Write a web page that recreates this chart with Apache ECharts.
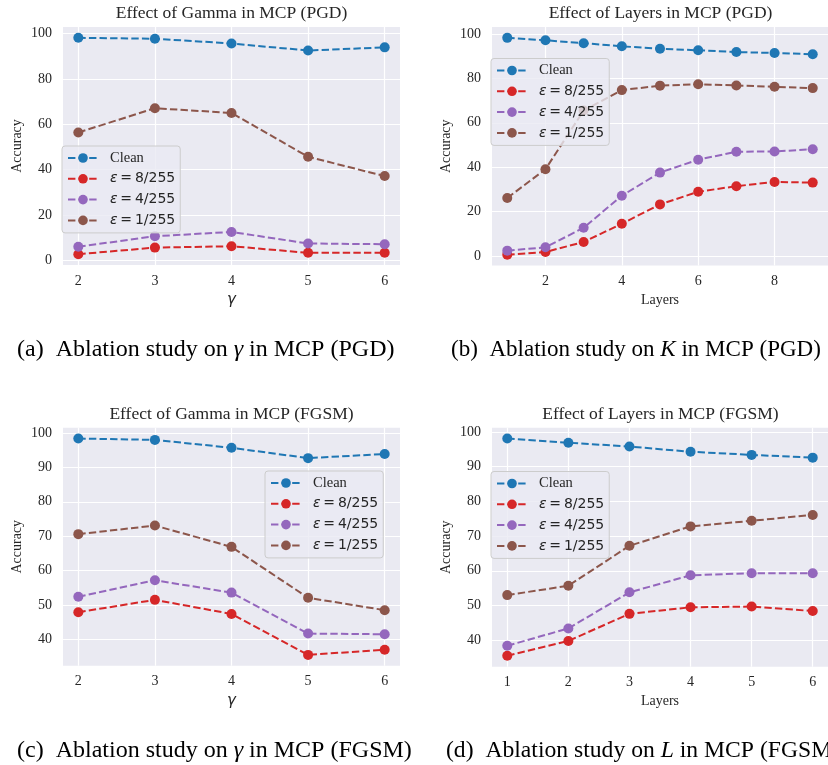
<!DOCTYPE html>
<html><head><meta charset="utf-8">
<script src="https://cdn.jsdelivr.net/npm/echarts@6/dist/echarts.min.js"></script>
<style>html,body{margin:0;padding:0;background:#fff}#c{width:828px;height:765px}</style>
</head><body><div id="c"></div>
<script>
// ---------- data ----------
const seriesNames = ['Clean', 'ε = 8/255', 'ε = 4/255', 'ε = 1/255'];
const gammaValues = [2, 3, 4, 5, 6];
const layersPGD = [1, 2, 3, 4, 5, 6, 7, 8, 9];
const layersFGSM = [1, 2, 3, 4, 5, 6];

const gammaPGD_clean = [98.1, 97.7, 95.6, 92.5, 93.9];
const gammaPGD_eps8  = [2.8, 5.7, 6.3, 3.4, 3.4];
const gammaPGD_eps4  = [6.1, 10.7, 12.6, 7.5, 7.2];
const gammaPGD_eps1  = [56.4, 67.1, 65.0, 45.7, 37.2];

const layersPGD_clean = [98.2, 97.1, 95.8, 94.4, 93.3, 92.6, 91.8, 91.4, 90.8];
const layersPGD_eps8  = [0.7, 1.9, 6.4, 14.6, 23.3, 29.0, 31.5, 33.4, 33.1];
const layersPGD_eps4  = [2.5, 4.0, 12.8, 27.2, 37.6, 43.4, 47.0, 47.1, 48.1];
const layersPGD_eps1  = [26.2, 39.1, 65.5, 74.7, 76.7, 77.3, 76.8, 76.2, 75.6];

const gammaFGSM_clean = [98.4, 98.0, 95.7, 92.7, 93.9];
const gammaFGSM_eps8  = [47.9, 51.5, 47.4, 35.5, 37.0];
const gammaFGSM_eps4  = [52.4, 57.2, 53.6, 41.7, 41.5];
const gammaFGSM_eps1  = [70.6, 73.1, 66.9, 52.1, 48.5];

const layersFGSM_clean = [98.1, 96.9, 95.8, 94.3, 93.4, 92.6];
const layersFGSM_eps8  = [35.5, 39.8, 47.6, 49.5, 49.7, 48.4];
const layersFGSM_eps4  = [38.4, 43.4, 53.8, 58.7, 59.3, 59.3];
const layersFGSM_eps1  = [53.0, 55.7, 67.2, 72.8, 74.4, 76.1];

const xTicksGamma = [2, 3, 4, 5, 6];
const xTicksLayersPGD = [2, 4, 6, 8];
const xTicksLayersFGSM = [1, 2, 3, 4, 5, 6];
const yTicksPGD = [0, 20, 40, 60, 80, 100];
const yTicksFGSM = [40, 50, 60, 70, 80, 90, 100];

const panelTitles = ['Effect of Gamma in MCP (PGD)', 'Effect of Layers in MCP (PGD)',
                     'Effect of Gamma in MCP (FGSM)', 'Effect of Layers in MCP (FGSM)'];
const xNames = ['γ', 'Layers', 'γ', 'Layers'];
const yName = 'Accuracy';

// ---------- layout / style ----------
const colors = ['#1f77b4', '#d62728', '#9467bd', '#8c564b'];
const panels = [
  {x: gammaValues, ys: [gammaPGD_clean, gammaPGD_eps8, gammaPGD_eps4, gammaPGD_eps1], xt: xTicksGamma, yt: yTicksPGD,
   grid: {left: 63, top: 27, width: 337, height: 238}, legend: {left: 62, top: 146}},
  {x: layersPGD, ys: [layersPGD_clean, layersPGD_eps8, layersPGD_eps4, layersPGD_eps1], xt: xTicksLayersPGD, yt: yTicksPGD,
   grid: {left: 492, top: 27, width: 337, height: 238.5}, legend: {left: 491, top: 58.5}},
  {x: gammaValues, ys: [gammaFGSM_clean, gammaFGSM_eps8, gammaFGSM_eps4, gammaFGSM_eps1], xt: xTicksGamma, yt: yTicksFGSM,
   grid: {left: 63, top: 427.7, width: 337, height: 238}, legend: {left: 265, top: 471}},
  {x: layersFGSM, ys: [layersFGSM_clean, layersFGSM_eps8, layersFGSM_eps4, layersFGSM_eps1], xt: xTicksLayersFGSM, yt: yTicksFGSM,
   grid: {left: 492, top: 427.7, width: 337, height: 239}, legend: {left: 491, top: 471.5}}
];

function pad(arr) {
  const mn = Math.min(...arr), mx = Math.max(...arr), r = mx - mn;
  return [mn - 0.05 * r, mx + 0.05 * r];
}
const txt = '#262626';
const serif = '"Liberation Serif", "Times New Roman", serif';

const grids = [], xAxes = [], yAxes = [], series = [], legends = [], graphics = [];
panels.forEach((p, i) => {
  grids.push(Object.assign({backgroundColor: '#EAEAF2', show: true, borderWidth: 0}, p.grid));
  const xr = pad(p.x), yr = pad([].concat(...p.ys));
  xAxes.push({
    type: 'value', gridIndex: i, min: xr[0], max: xr[1],
    axisLine: {show: false}, axisTick: {show: false, customValues: p.xt},
    axisLabel: {customValues: p.xt, margin: 9, fontFamily: serif, fontSize: 14, color: txt},
    splitLine: {show: true, lineStyle: {color: '#ffffff', width: 1.2}},
    name: xNames[i], nameLocation: 'middle', nameGap: 28,
    nameTextStyle: xNames[i] === 'γ' ? {fontFamily: '"DejaVu Sans"', fontStyle: 'italic', fontSize: 15, color: txt}
                                      : {fontFamily: serif, fontSize: 14, color: txt}
  });
  yAxes.push({
    type: 'value', gridIndex: i, min: yr[0], max: yr[1],
    axisLine: {show: false}, axisTick: {show: false, customValues: p.yt},
    axisLabel: {customValues: p.yt, margin: 11, fontFamily: serif, fontSize: 14, color: txt},
    splitLine: {show: true, lineStyle: {color: '#ffffff', width: 1.2}},
    name: yName, nameLocation: 'middle', nameGap: 39,
    nameTextStyle: {fontFamily: serif, fontSize: 14, color: txt}
  });
  p.ys.forEach((vals, k) => {
    series.push({
      type: 'line', name: seriesNames[k], xAxisIndex: i, yAxisIndex: i,
      data: p.x.map((xv, j) => [xv, vals[j]]),
      symbol: 'circle', symbolSize: 10, showSymbol: true,
      color: colors[k],
      itemStyle: {color: colors[k]},
      lineStyle: {color: colors[k], width: 2, type: [7.4, 3.2]},
      animation: false, silent: true
    });
  });
  legends.push({
    orient: 'vertical', left: p.legend.left, top: p.legend.top,
    data: seriesNames.slice(), itemWidth: 30, itemHeight: 12, itemGap: 5.8,
    padding: [4.5, 5, 5, 5],
    backgroundColor: 'rgba(234,234,242,0.8)', borderColor: '#cccccc', borderWidth: 1, borderRadius: 3,
    selectedMode: false,
    textStyle: {
      color: txt, fontSize: 14, lineHeight: 15,
      rich: {
        s: {fontFamily: serif, fontSize: 14.5, color: txt, lineHeight: 15, padding: [0, 0, 0, 7]},
        e: {fontFamily: '"DejaVu Sans"', fontStyle: 'italic', fontSize: 14, color: txt, lineHeight: 15, padding: [0, 0, 0, 7]},
        m: {fontFamily: '"DejaVu Sans"', fontSize: 14, color: txt, lineHeight: 15}
      }
    },
    formatter: function (name) {
      if (name === 'Clean') return '{s|Clean}';
      const parts = name.split(' = ');
      return '{e|' + parts[0] + '}{m|\u2009=\u2009' + parts[1] + '}';
    }
  });
  const g = p.grid;
  graphics.push({
    type: 'text', x: g.left + 337 / 2, y: g.top - 13.5,
    style: {text: panelTitles[i], font: '17.5px ' + serif, fill: txt, align: 'center', verticalAlign: 'middle'}
  });
});

const captionRich = {
  i: {fontFamily: serif, fontStyle: 'italic', fontSize: 24, fill: '#000', color: '#000'}
};
const captions = [
  {x: 17, y: 350, sx: 1, t: '(a)  Ablation study on {i|γ} in MCP (PGD)'},
  {x: 451, y: 350, sx: 0.96, t: '(b)  Ablation study on {i|K} in MCP (PGD)'},
  {x: 17, y: 751, sx: 1, t: '(c)  Ablation study on {i|γ} in MCP (FGSM)'},
  {x: 446, y: 751, sx: 0.985, t: '(d)  Ablation study on {i|L} in MCP (FGSM)'}
];
captions.forEach(c => {
  graphics.push({
    type: 'text', x: c.x, y: c.y, scaleX: c.sx,
    style: {text: c.t, fontFamily: serif, fontSize: 24, fill: '#000', align: 'left', verticalAlign: 'middle', rich: captionRich}
  });
});

const chart = echarts.init(document.getElementById('c'), null, {renderer: 'canvas'});
chart.setOption({
  animation: false,
  backgroundColor: '#ffffff',
  grid: grids, xAxis: xAxes, yAxis: yAxes, series: series, legend: legends,
  graphic: graphics
});
</script>
</body></html>
